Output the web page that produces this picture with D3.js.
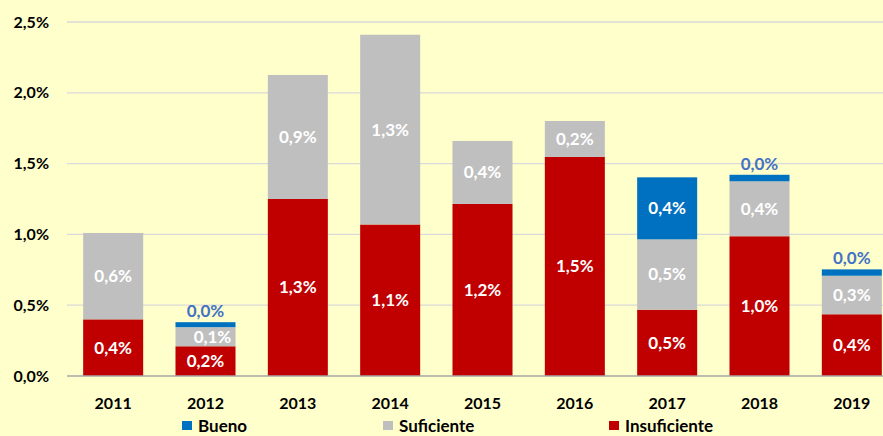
<!DOCTYPE html>
<html><head><meta charset="utf-8">
<script src="https://cdn.jsdelivr.net/npm/d3@7"></script>
<style>html,body{margin:0;padding:0;background:#FFFFCC;}svg{display:block;}</style>
</head><body>
<script>
const years = ["2011","2012","2013","2014","2015","2016","2017","2018","2019"];
const insuficiente = [0.40, 0.21, 1.25, 1.07, 1.215, 1.547, 0.468, 0.987, 0.436];
const suficiente   = [0.61, 0.135, 0.876, 1.34, 0.445, 0.254, 0.497, 0.388, 0.272];
const bueno        = [0, 0.035, 0, 0, 0, 0, 0.438, 0.046, 0.045];
const insufLabels = ["0,4%","0,2%","1,3%","1,1%","1,2%","1,5%","0,5%","1,0%","0,4%"];
const sufLabels   = ["0,6%","0,1%","0,9%","1,3%","0,4%","0,2%","0,5%","0,4%","0,3%"];
const buenoLabels = [null,"0,0%",null,null,null,null,"0,4%","0,0%","0,0%"];
const yTicks = [0, 0.5, 1.0, 1.5, 2.0, 2.5];
const yTickLabels = ["0,0%","0,5%","1,0%","1,5%","2,0%","2,5%"];
const seriesNames = ["Bueno","Suficiente","Insuficiente"];
const colors = {Insuficiente:"#C00000", Suficiente:"#BFBFBF", Bueno:"#0070C0"};

const W = 883, H = 436;
const svg = d3.select("body").append("svg").attr("width", W).attr("height", H);
svg.append("rect").attr("width", W).attr("height", H).attr("fill", "#FFFFCC");

const x = d3.scaleBand().domain(years).range([67, 898]).paddingInner(0.35).paddingOuter(0.175);
const y = d3.scaleLinear().domain([0, 2.5]).range([376, 22]);
const font = "Lato, 'Open Sans', sans-serif";

// gridlines
svg.append("g").selectAll("line").data(yTicks.slice(1)).join("line")
  .attr("x1", 67).attr("x2", W).attr("y1", d => y(d)).attr("y2", d => y(d))
  .attr("stroke", "#D9D9D9").attr("stroke-width", 1.3);

// y labels
svg.append("g").selectAll("text").data(yTicks).join("text")
  .attr("x", 49).attr("y", d => y(d)).attr("dy", "0.35em")
  .attr("text-anchor", "end").attr("font-family", font).attr("font-weight", "bold")
  .attr("font-size", 16).attr("fill", "#000").text((d, i) => yTickLabels[i]);

const rows = years.map((yr, i) => ({year: yr, Insuficiente: insuficiente[i], Suficiente: suficiente[i], Bueno: bueno[i], i}));
const stack = d3.stack().keys(["Insuficiente","Suficiente","Bueno"])(rows);

stack.forEach(layer => {
  svg.append("g").selectAll("rect").data(layer).join("rect")
    .attr("x", d => x(d.data.year)).attr("width", x.bandwidth())
    .attr("y", d => y(d[1])).attr("height", d => Math.max(0, y(d[0]) - y(d[1])))
    .attr("fill", colors[layer.key]);
});

// axis baseline
svg.append("line").attr("x1", 67).attr("x2", W).attr("y1", y(0)).attr("y2", y(0))
  .attr("stroke", "#A6A6A6").attr("stroke-width", 1.3);

// labels
const labelLayers = {Insuficiente: insufLabels, Suficiente: sufLabels, Bueno: buenoLabels};
stack.forEach(layer => {
  const labs = labelLayers[layer.key];
  layer.forEach(d => {
    const lab = labs[d.data.i];
    if (!lab) return;
    const h = y(d[0]) - y(d[1]);
    const small = h < 14;
    svg.append("text")
      .attr("x", x(d.data.year) + x.bandwidth() / 2 + (layer.key === "Suficiente" && h < 20 ? 7 : 0))
      .attr("y", small ? y(d[1]) - 5 : (y(d[0]) + y(d[1])) / 2)
      .attr("dy", small ? "0" : "0.35em")
      .attr("text-anchor", "middle").attr("font-family", font).attr("font-weight", "bold")
      .attr("font-size", 17).attr("fill", small ? "#4472C4" : "#FFFFFF")
      .text(lab);
  });
});

// x labels
svg.append("g").selectAll("text").data(years).join("text")
  .attr("x", d => x(d) + x.bandwidth() / 2).attr("y", 409)
  .attr("text-anchor", "middle").attr("font-family", font).attr("font-weight", "bold")
  .attr("font-size", 16).attr("fill", "#000").text(d => d);

// legend
const legendX = [182, 383, 609];
const lg = svg.append("g").selectAll("g").data(seriesNames).join("g")
  .attr("transform", (d, i) => `translate(${legendX[i]},0)`);
lg.append("rect").attr("x", 0).attr("y", 421).attr("width", 10).attr("height", 9).attr("fill", d => colors[d]);
lg.append("text").attr("x", 16).attr("y", 432).attr("font-family", font).attr("font-weight", "bold")
  .attr("font-size", 17).attr("fill", "#000").text(d => d);
</script>
</body></html>
